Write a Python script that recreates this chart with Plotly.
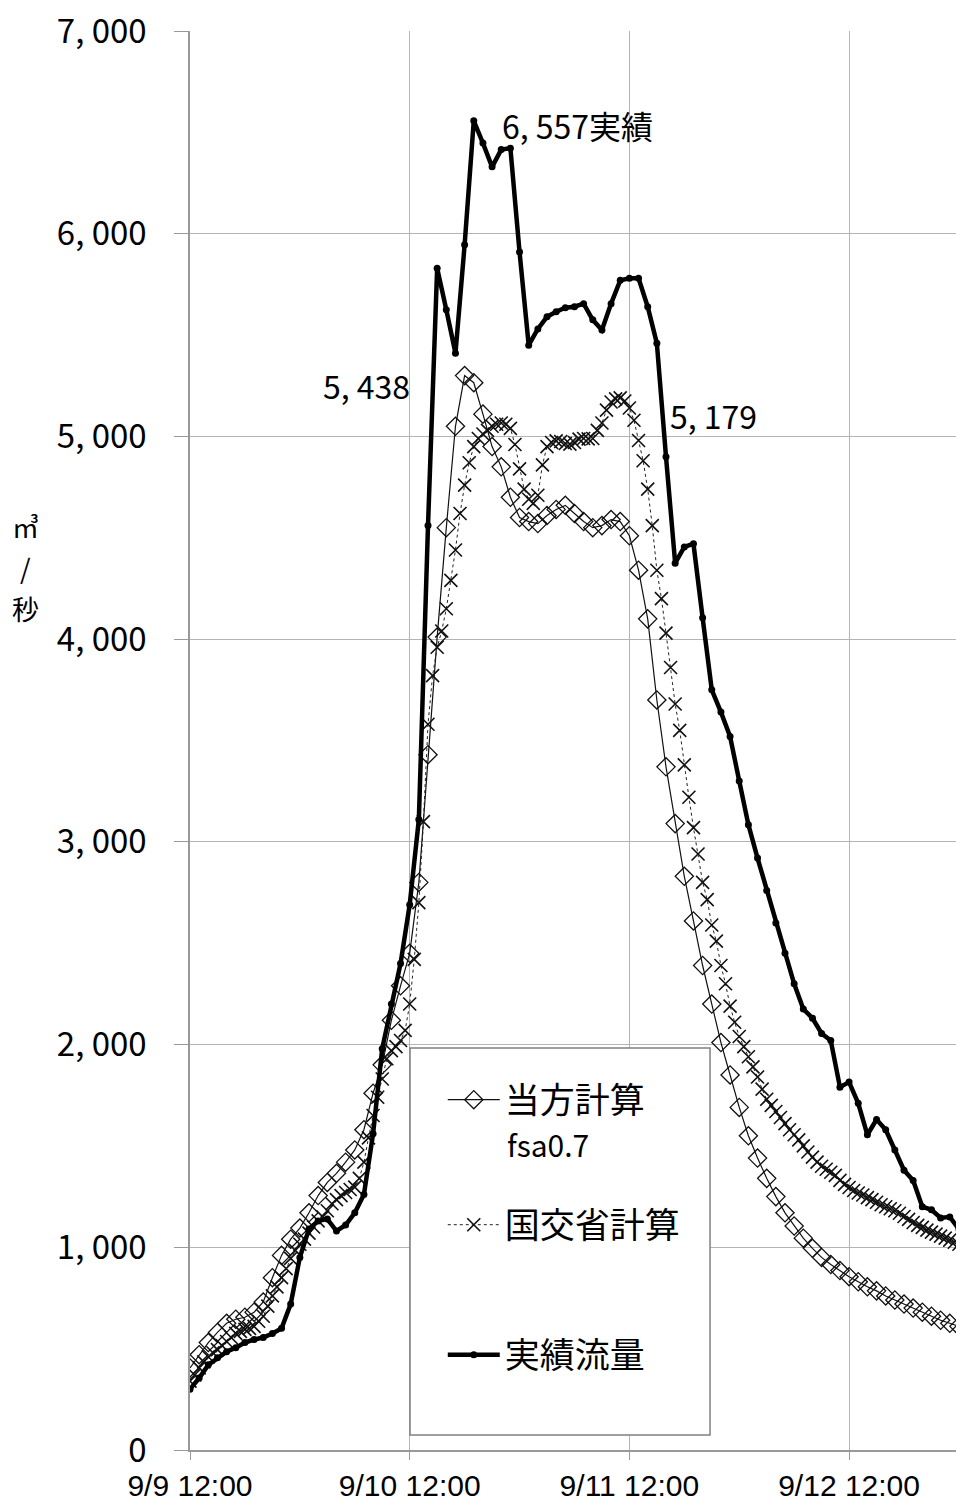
import plotly.graph_objects as go

# time axis: hours after 9/9 12:00
hours = list(range(85))
half_hours = [i * 0.5 for i in range(169)]

tick_hours = [0, 24, 48, 72]
tick_labels = ["9/9 12:00", "9/10 12:00", "9/11 12:00", "9/12 12:00"]
y_ticks = [0, 1000, 2000, 3000, 4000, 5000, 6000, 7000]
y_labels = ["0", "1, 000", "2, 000", "3, 000", "4, 000", "5, 000", "6, 000", "7, 000"]

# 当方計算 fsa0.7 (hourly)
tohou = [405, 470, 530, 580, 625, 645, 655, 680, 730, 850,
         960, 1040, 1095, 1170, 1255, 1320, 1365, 1420, 1480, 1580,
         1760, 1900, 2120, 2290, 2450, 2800, 3430, 4010, 4550, 5050,
         5300, 5265, 5110, 4950, 4850, 4700, 4600, 4580, 4570, 4610,
         4640, 4660, 4620, 4580, 4550, 4560, 4590, 4580, 4510, 4340,
         4100, 3700, 3370, 3090, 2830, 2610, 2390, 2200, 2010, 1850,
         1690, 1550, 1440, 1340, 1250, 1170, 1105, 1045, 995, 950,
         915, 885, 855, 830, 805, 785, 760, 740, 720, 700,
         680, 660, 640, 625, 610]

# 国交省計算 (half-hourly)
kokko = [340, 370, 405, 435, 460, 480, 495, 515, 535, 555,
         575, 585, 595, 600, 610, 635, 660, 710, 760, 805,
         850, 895, 945, 985, 1015, 1040, 1070, 1100, 1130, 1150,
         1180, 1215, 1235, 1255, 1270, 1285, 1297, 1340, 1420, 1540,
         1650, 1740, 1830, 1930, 1970, 1990, 2020, 2070, 2200, 2420,
         2700, 3100, 3580, 3820, 3960, 4040, 4150, 4290, 4440, 4620,
         4760, 4870, 4950, 4990, 5012, 5030, 5050, 5060, 5066, 5060,
         5040, 4960, 4840, 4740, 4690, 4670, 4710, 4860, 4950, 4970,
         4978, 4975, 4965, 4962, 4970, 4987, 4990, 4988, 4990, 5030,
         5066, 5130, 5170, 5185, 5190, 5175, 5140, 5080, 4980, 4880,
         4740, 4560, 4340, 4200, 4030, 3860, 3680, 3550, 3380, 3220,
         3070, 2940, 2800, 2715, 2590, 2510, 2390, 2300, 2190, 2110,
         2040, 1990, 1940, 1890, 1840, 1780, 1730, 1700, 1670, 1640,
         1610, 1580, 1555, 1530, 1500, 1470, 1445, 1420, 1400, 1385,
         1370, 1355, 1330, 1310, 1295, 1280, 1268, 1258, 1245, 1235,
         1222, 1210, 1200, 1190, 1180, 1168, 1152, 1138, 1122, 1108,
         1098, 1085, 1075, 1065, 1055, 1045, 1035, 1025, 1015]

# 実績流量 (hourly)
jisseki = [300, 355, 420, 455, 485, 505, 530, 545, 555, 575,
           600, 720, 950, 1090, 1130, 1140, 1080, 1110, 1170, 1260,
           1560, 1980, 2200, 2400, 2690, 3110, 4560, 5830, 5625, 5410,
           5945, 6557, 6447, 6330, 6415, 6422, 5910, 5450, 5530, 5590,
           5615, 5635, 5640, 5655, 5575, 5525, 5655, 5770, 5780, 5780,
           5640, 5460, 4900, 4375, 4455, 4470, 4105, 3750, 3640, 3520,
           3300, 3085, 2920, 2760, 2600, 2450, 2300, 2175, 2130, 2055,
           2020, 1790, 1815, 1710, 1555, 1630, 1580, 1480, 1380, 1330,
           1200, 1185, 1145, 1150, 1090]

JP = "Noto Sans CJK JP, sans-serif"
NUM_X = "Liberation Sans Narrow, Arial Narrow, Liberation Sans, sans-serif"

fig = go.Figure()

fig.add_trace(go.Scatter(
    x=hours, y=tohou, name="当方計算", legend="legend",
    mode="lines+markers",
    line=dict(color="#111111", width=1.2),
    marker=dict(symbol="diamond-open", size=14, color="#111111",
                line=dict(width=1.3, color="#111111")),
))
fig.add_trace(go.Scatter(
    x=half_hours, y=kokko, name="国交省計算", legend="legend2",
    mode="lines+markers",
    line=dict(color="#222222", width=1, dash="dot"),
    marker=dict(symbol="x-thin-open", size=13, color="#111111",
                line=dict(width=1.6, color="#111111")),
))
fig.add_trace(go.Scatter(
    x=hours, y=jisseki, name="実績流量", legend="legend3",
    mode="lines+markers",
    line=dict(color="#000000", width=4.5),
    marker=dict(symbol="circle", size=7, color="#000000"),
))

# legend box
fig.add_shape(type="rect", xref="paper", yref="paper",
              x0=0.2872, x1=0.6789, y0=0.0106, y1=0.2833,
              fillcolor="white", line=dict(color="#808080", width=1.5),
              layer="above")

ann_font = dict(family=JP, size=32, color="black")
fig.add_annotation(x=33.9, y=6537, text="6, 557実績", showarrow=False,
                   xanchor="left", yanchor="middle", font=ann_font)
fig.add_annotation(x=24.25, y=5254, text="5, 438", showarrow=False,
                   xanchor="right", yanchor="middle", font=ann_font)
fig.add_annotation(x=52.2, y=5106, text="5, 179", showarrow=False,
                   xanchor="left", yanchor="middle", font=ann_font)
fig.add_annotation(xref="paper", yref="paper", x=0.4112, y=(1450 - 1144) / 1419,
                   text="fsa0.7", showarrow=False,
                   xanchor="left", yanchor="middle",
                   font=dict(family=JP, size=30, color="black"))

# y-axis unit, stacked vertically: ㎥ / 秒
unit_font = dict(family=JP, size=27, color="black")
for txt, ypix in (("㎥", 526), ("/", 567), ("秒", 608)):
    fig.add_annotation(xref="paper", yref="paper", x=-0.2154,
                       y=(1450 - ypix) / 1419, text=txt, showarrow=False,
                       xanchor="center", yanchor="middle", font=unit_font)

leg_common = dict(xanchor="left", yanchor="middle",
                  bgcolor="rgba(0,0,0,0)", borderwidth=0,
                  font=dict(family=JP, size=35, color="black"),
                  itemwidth=52)
fig.update_layout(
    width=956, height=1506,
    margin=dict(l=190, r=0, t=31, b=56),
    paper_bgcolor="white", plot_bgcolor="white",
    showlegend=True,
    legend=dict(x=0.33, y=0.2467, **leg_common),
    legend2=dict(x=0.33, y=0.1586, **leg_common),
    legend3=dict(x=0.33, y=0.0669, **leg_common),
)
fig.update_xaxes(
    range=[0, 83.68], tickmode="array", tickvals=tick_hours, ticktext=tick_labels,
    showgrid=True, gridcolor="#b4b4b4", gridwidth=1,
    showline=True, linecolor="#999999", linewidth=1.5,
    ticks="outside", ticklen=8, tickcolor="#999999",
    zeroline=False, automargin=False,
    tickfont=dict(family=NUM_X, size=30, color="black"),
)
fig.update_yaxes(
    range=[0, 7000], tickmode="array", tickvals=y_ticks, ticktext=y_labels,
    showgrid=True, gridcolor="#b4b4b4", gridwidth=1,
    showline=True, linecolor="#999999", linewidth=1.5,
    ticks="outside", ticklen=14, tickcolor="#999999",
    zeroline=False, automargin=False, ticklabelstandoff=21,
    tickfont=dict(family=JP, size=33, color="black"),
)

fig.write_html("out.html")
